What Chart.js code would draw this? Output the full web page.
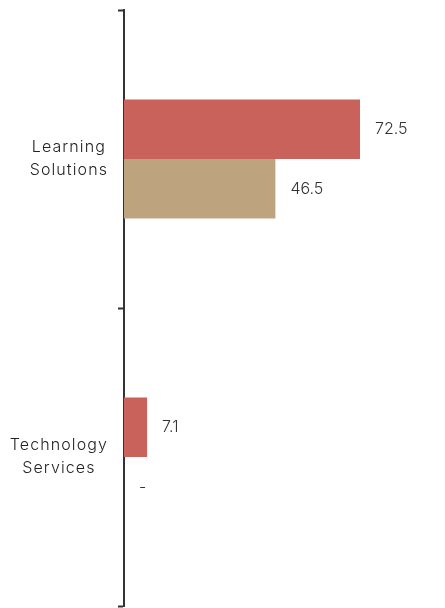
<!DOCTYPE html>
<html><head><meta charset="utf-8">
<script src="https://cdn.jsdelivr.net/npm/chart.js@4"></script>
<style>html,body{margin:0;padding:0;background:#fff}#wrap{width:445px;height:608px}</style>
</head><body><div id="wrap"><canvas id="c"></canvas></div>
<script>
const categories = [["Learning","Solutions"],["Technology","Services"]];
const seriesA = [72.5, 7.1];
const seriesB = [46.5, null];
const colorA = "#C8625A";
const colorB = "#BEA37F";
const FONT = "Inter, 'Open Sans', sans-serif";

const valueLabels = {
  id: "valueLabels",
  afterDatasetsDraw(chart) {
    const ctx = chart.ctx;
    const xs = chart.scales.x;
    const ys = chart.scales.y;
    ctx.save();
    ctx.font = "300 16px " + FONT;
    ctx.fillStyle = "#333";
    ctx.textAlign = "left";
    ctx.textBaseline = "middle";
    chart.data.datasets.forEach((ds, di) => {
      const meta = chart.getDatasetMeta(di);
      meta.data.forEach((bar, i) => {
        const v = ds.data[i];
        const end = v == null ? xs.getPixelForValue(0) : bar.x;
        const txt = v == null ? "-" : v.toFixed(1);
        ctx.fillText(txt, end + 15, bar.y);
      });
    });
    ctx.font = "300 16px " + FONT;
    ctx.letterSpacing = "1.1px";
    ctx.fillStyle = "#222";
    ctx.textAlign = "center";
    const rightEdge = ys.right - 6 - 10;
    const lh = 23;
    chart.data.labels.forEach((lab, i) => {
      const lines = Array.isArray(lab) ? lab : [lab];
      const w = Math.max(...lines.map(l => ctx.measureText(l).width));
      const cx = rightEdge - w / 2;
      const cy = ys.getPixelForValue(i);
      lines.forEach((l, k) => {
        ctx.fillText(l, cx, cy + (k - (lines.length - 1) / 2) * lh);
      });
    });
    ctx.restore();
  }
};

new Chart(document.getElementById("c"), {
  type: "bar",
  data: {
    labels: categories,
    datasets: [
      { data: seriesA, backgroundColor: colorA, categoryPercentage: 0.4, barPercentage: 1.0 },
      { data: seriesB, backgroundColor: colorB, categoryPercentage: 0.4, barPercentage: 1.0 }
    ]
  },
  options: {
    indexAxis: "y",
    responsive: true,
    maintainAspectRatio: false,
    animation: false,
    layout: { padding: { top: 10, bottom: 2, right: 28, left: 0 } },
    plugins: { legend: { display: false }, tooltip: { enabled: false } },
    scales: {
      x: { display: false, min: 0, max: 90 },
      y: {
        grid: { display: true, drawOnChartArea: false, tickLength: 6, color: "#333", tickWidth: 2 },
        border: { display: true, color: "#333", width: 2 },
        ticks: { display: false },
        afterFit(scale) { scale.width = 124; scale.paddingTop = 0; scale.paddingBottom = 0; }
      }
    }
  },
  plugins: [valueLabels]
});
</script></body></html>
